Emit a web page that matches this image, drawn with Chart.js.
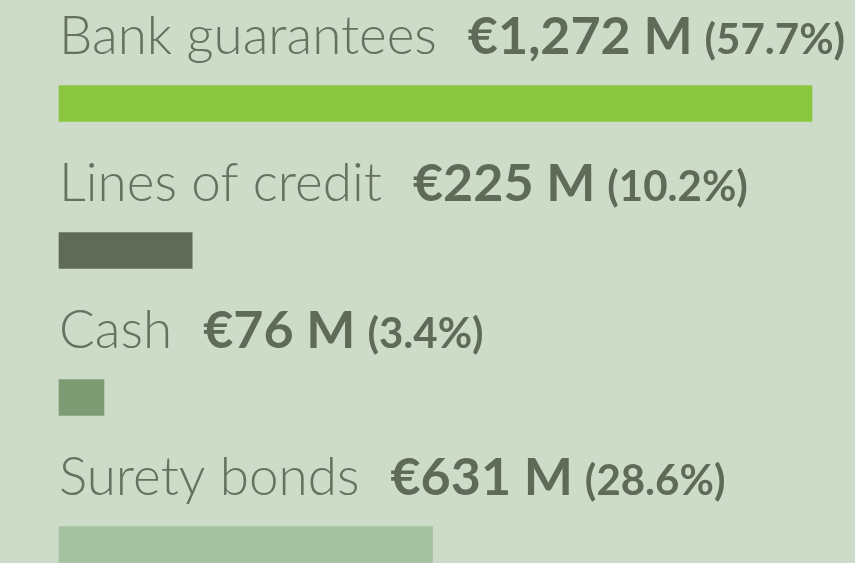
<!DOCTYPE html>
<html>
<head>
<meta charset="utf-8">
<script src="https://cdn.jsdelivr.net/npm/chart.js@4"></script>
<style>
  html, body { margin: 0; padding: 0; background: #cddbc9; }
  #wrap { width: 855px; height: 563px; }
</style>
</head>
<body>
<div id="wrap"><canvas id="myChart"></canvas></div>
<script>
// guarantee types, amounts in € millions
const categories = ['Bank guarantees', 'Lines of credit', 'Cash', 'Surety bonds'];
const amounts = [1272, 225, 76, 631];
const barColors = ['#8bc63f', '#5f6b57', '#7d9c74', '#a6c1a0'];

const total = amounts.reduce((a, b) => a + b, 0);

// text above every bar: name, amount, share
const labelPlugin = {
    id: 'barLabels',
    afterDatasetsDraw(chart) {
        const ctx = chart.ctx;
        const meta = chart.getDatasetMeta(0);
        const left = chart.chartArea.left;
        ctx.save();
        ctx.textBaseline = 'alphabetic';
        ctx.textAlign = 'left';
        meta.data.forEach((bar, i) => {
            const y = bar.y - 50;
            let x = left;
            ctx.fillStyle = '#67715f';
            ctx.font = '300 53px "Lato Light", Lato';
            ctx.fillText(categories[i], x, y);
            x += ctx.measureText(categories[i]).width + 31;

            const amt = '€' + amounts[i].toLocaleString('en-US') + ' M';
            ctx.fillStyle = '#5f6b58';
            ctx.font = 'bold 52px Lato';
            ctx.fillText(amt, x, y);
            x += ctx.measureText(amt).width + 12;

            ctx.font = 'bold 42px Lato';
            ctx.fillText('(' + (amounts[i] / total * 100).toFixed(1) + '%)', x, y);
        });
        ctx.restore();
    }
};

new Chart(document.getElementById('myChart'), {
    type: 'bar',
    data: {
        labels: categories,
        datasets: [{
            data: amounts,
            backgroundColor: barColors,
            barThickness: 36,
            borderWidth: 0,
            clip: false
        }]
    },
    options: {
        indexAxis: 'y',
        responsive: true,
        maintainAspectRatio: false,
        animation: false,
        layout: { padding: { left: 59, right: 43, top: 103.5, bottom: 18.5 } },
        scales: {
            x: { display: false, min: 0, max: 1272 },
            y: { display: false, offset: false }
        },
        plugins: {
            legend: { display: false },
            tooltip: { enabled: false }
        }
    },
    plugins: [labelPlugin]
});
</script>
</body>
</html>
